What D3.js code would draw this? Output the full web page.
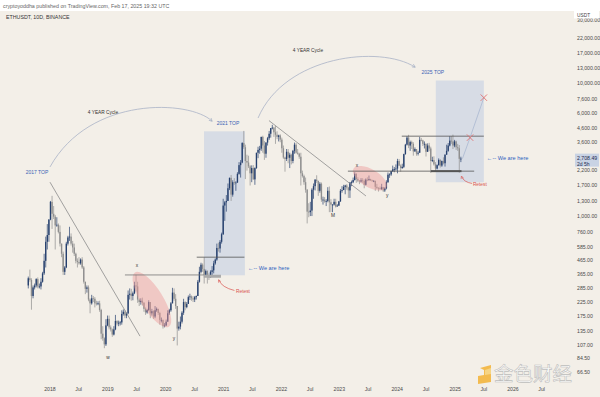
<!DOCTYPE html>
<html><head><meta charset="utf-8">
<script src="https://cdn.jsdelivr.net/npm/d3@7"></script>
<style>html,body{margin:0;padding:0;background:#fff}svg{display:block}</style>
</head><body><svg id="c" width="600" height="397"></svg>
<script>
// ---- DATA (10-day candles from 2017-08-17, ETHUSDT) ----
const firstOpen = 300;
const closes = [
340,330,250,290,300,335,295,295,320,370,
460,640,720,940,1280,1040,990,850,860,760,
620,520,380,410,620,690,700,620,580,520,
460,450,440,470,410,320,283,290,235,220,
240,238,220,218,220,196,130,120,108,150,
168,145,140,128,140,162,155,157,158,183,
190,178,185,255,260,250,262,300,295,235,
225,230,222,200,188,196,225,185,192,175,
195,200,186,165,165,148,150,160,185,195,
220,265,238,210,142,147,160,187,225,206,
218,245,248,240,235,245,250,320,380,430,
400,360,385,355,345,380,390,440,470,575,
570,640,730,1200,1270,1300,1620,1940,1450,1800,
1780,1790,2080,2420,2530,3550,3300,2600,2530,2370,
2100,2300,1890,2300,3000,3150,3220,3950,3400,2950,
3580,3860,4170,4600,4640,4280,4100,3950,4050,3770,
3240,2760,2690,3050,2750,2900,2600,3100,3450,3000,
2950,2800,2100,2000,1800,1580,1080,1070,1100,1580,
1680,1880,1840,1550,1750,1330,1330,1290,1300,1550,
1270,1220,1220,1280,1180,1200,1290,1550,1570,1660,
1700,1640,1560,1790,1800,1870,2080,1900,1850,1820,
1860,1840,1720,1880,1870,1900,1860,1830,1840,1660,
1630,1620,1600,1650,1560,1620,1800,2050,2060,2180,
2250,2260,2280,2600,2400,2300,2350,2930,3450,3900,
3400,3610,3500,3070,3200,2950,3000,3750,3720,3500,
3500,3050,3400,3230,2600,2640,2450,2280,2420,2650,
2400,2600,2500,2900,3100,3400,3700,3650,3400,3650,
3300,3240,2700,2708.49];
const highs = [
350,395,340,300,310,340,345,310,340,380,
520,700,870,950,1300,1420,1190,1020,980,880,
850,620,540,420,640,710,830,740,650,620,
530,480,490,480,490,420,320,300,300,240,
255,250,245,230,228,230,200,148,122,167,
178,178,150,142,148,180,164,163,162,195,
198,195,188,275,285,283,270,320,361,320,
240,240,243,225,205,200,232,225,200,195,
210,205,200,190,172,166,156,166,195,200,
225,288,285,258,210,160,175,192,238,228,
225,252,260,252,249,250,252,330,415,445,
440,488,395,390,370,390,420,460,480,620,
630,660,750,1350,1300,1440,1760,1950,2040,1860,
1930,1830,2140,2550,2640,3600,4380,3450,2900,2850,
2420,2410,2420,2330,3000,3330,3380,3960,4030,3680,
3600,3950,4380,4600,4870,4700,4780,4350,4100,4130,
3900,3400,2800,3200,3200,3000,2950,3150,3580,3550,
3200,3000,3000,2200,2050,1950,1600,1250,1280,1620,
1760,1900,2030,1850,1800,1790,1400,1390,1340,1650,
1670,1340,1230,1350,1350,1230,1300,1600,1680,1720,
1720,1740,1660,1800,1850,1950,2140,2100,1960,1870,
1930,1930,1890,1920,1960,2020,1910,1880,1870,1850,
1750,1650,1670,1750,1660,1650,1860,2130,2100,2200,
2400,2340,2450,2700,2690,2450,2480,2950,3500,4000,
4093,3700,3700,3600,3290,3200,3100,3950,3880,3760,
3650,3520,3530,3560,3330,2800,2820,2550,2450,2720,
2680,2620,2770,2920,3450,3550,4000,4000,4107,3750,
3700,3500,3430,2800];
const lows = [
285,320,197,240,280,290,285,285,280,315,
360,410,560,640,930,800,950,560,830,740,
590,490,360,360,405,600,650,600,530,500,
440,410,430,430,400,310,258,265,228,185,
215,225,205,212,213,190,118,115,101,105,
148,140,135,123,126,138,150,148,150,152,
178,170,170,182,235,230,232,258,270,222,
210,215,212,190,180,184,192,170,178,168,
170,190,180,152,158,142,145,148,160,180,
190,220,230,200,106,137,140,155,180,195,
202,218,233,230,225,225,235,250,315,370,
380,310,360,310,330,345,360,370,430,460,
540,530,620,720,920,1080,1300,1570,1300,1400,
1720,1550,1780,2050,1950,2500,3200,1900,2200,2300,
1700,1800,1880,1720,2270,2730,2950,3100,3000,2650,
2750,3400,3750,3900,4500,3950,3500,3800,3650,3600,
3000,2700,2160,2600,2500,2300,2450,2500,2950,2950,
2900,2700,1700,1950,1720,1500,880,980,1000,1000,
1350,1560,1780,1420,1500,1280,1220,1260,1190,1270,
1070,1070,1070,1200,1160,1180,1190,1280,1500,1570,
1460,1580,1370,1370,1680,1770,1850,1780,1800,1740,
1790,1780,1620,1700,1830,1840,1840,1820,1800,1550,
1600,1530,1580,1570,1520,1520,1590,1780,1940,2010,
2150,2140,2200,2100,2380,2160,2270,2300,2900,3400,
3250,3100,3200,2850,3050,2850,2860,3000,3660,3370,
3230,2810,3050,3080,2111,2550,2400,2150,2250,2400,
2320,2350,2450,2360,2900,3050,3350,3500,3200,3300,
3150,3100,2120,2550];

const priceTicks = [66.5,84.5,107,135,175,225,285,365,465,585,760,1000,1300,1700,2200,3600,4600,6000,7600,10000,13000,17000,22000,30000];
const yearLabels = ["2018","2019","2020","2021","2022","2023","2024","2025","2026"];
const lastPrice = 2708.49;

// ---- SETUP ----
const W = 600, H = 397;
const svg = d3.select('#c');
const FONT = 'Liberation Sans, Arial, sans-serif';
svg.append('rect').attr('width', W).attr('height', H).attr('fill', '#f3efe8');
svg.append('rect').attr('width', W).attr('height', 11).attr('fill', '#ffffff');

const x = d3.scaleTime().domain([new Date(2018,0,1), new Date(2026,0,1)]).range([50, 513]);
const y = d3.scaleLog().domain([66.5, 22000]).range([372.3, 37.9]);
const D = (yy, mm, dd) => new Date(yy, mm - 1, dd);

const defs = svg.append('defs');
defs.append('clipPath').attr('id', 'plot').append('rect').attr('x', 0).attr('y', 11).attr('width', 574).attr('height', 372);
function marker(id, color) {
  defs.append('marker').attr('id', id).attr('viewBox', '0 0 10 10').attr('refX', 8).attr('refY', 5)
    .attr('markerWidth', 5).attr('markerHeight', 5).attr('orient', 'auto-start-reverse')
    .append('path').attr('d', 'M1,1 L9,5 L1,9').attr('fill', 'none').attr('stroke', color).attr('stroke-width', 1.5);
}
marker('arrG', '#9aa7bf');
marker('arrR', '#d9534f');

const g = svg.append('g').attr('clip-path', 'url(#plot)');

// boxes
const boxes = [
  {d0: D(2020,8,30), d1: D(2021,5,15), p0: 358, p1: 4350},
  {d0: D(2024,9,1), d1: D(2025,7,1), p0: 1800, p1: 10500}
];
g.selectAll('rect.box').data(boxes).enter().append('rect')
  .attr('x', b => x(b.d0)).attr('width', b => x(b.d1) - x(b.d0))
  .attr('y', b => y(b.p1)).attr('height', b => y(b.p0) - y(b.p1))
  .attr('fill', '#cfd7e4').attr('opacity', 0.8);

// candles
const candles = closes.map((c, i) => {
  const o = i === 0 ? firstOpen : closes[i - 1];
  return {d: new Date(2017, 7, 17 + 10 * i), o, c, h: Math.max(highs[i], o, c), l: Math.min(lows[i], o, c)};
});
const step = x(new Date(2017,7,27)) - x(new Date(2017,7,17));
const bw = Math.max(1, step * 0.85);
const upC = '#26406e', dnC = '#8e8e8e';
const cg = g.append('g');
cg.selectAll('line.w').data(candles).enter().append('line')
  .attr('x1', d => x(d.d)).attr('x2', d => x(d.d))
  .attr('y1', d => y(d.h)).attr('y2', d => y(d.l))
  .attr('stroke', d => d.c >= d.o ? upC : dnC).attr('stroke-width', 0.7);
cg.selectAll('rect.b').data(candles).enter().append('rect')
  .attr('x', d => x(d.d) - bw / 2).attr('width', bw)
  .attr('y', d => y(Math.max(d.o, d.c))).attr('height', d => Math.max(0.8, Math.abs(y(d.o) - y(d.c))))
  .attr('fill', d => d.c >= d.o ? upC : dnC);

// ellipses
const ellipses = [
  {d: D(2019,10,6), p: 235, rx: 32, ry: 11, rot: 58},
  {d: D(2023,7,13), p: 1929, rx: 19, ry: 9, rot: 30}
];
g.selectAll('ellipse').data(ellipses).enter().append('ellipse')
  .attr('transform', e => `translate(${x(e.d)},${y(e.p)}) rotate(${e.rot})`)
  .attr('rx', e => e.rx).attr('ry', e => e.ry)
  .attr('fill', '#ee9a9a').attr('opacity', 0.45);

// lines
const hl = [
  {d0: D(2019,4,19), d1: D(2020,8,30), p: 360, c: '#777', w: 0.8},
  {d0: D(2020,7,15), d1: D(2021,5,12), p: 490, c: '#555', w: 0.8},
  {d0: D(2024,1,30), d1: D(2025,7,1), p: 4000, c: '#555', w: 0.8},
  {d0: D(2023,2,24), d1: D(2025,5,1), p: 2180, c: '#555', w: 0.8},
  {d0: D(2024,8,1), d1: D(2025,2,10), p: 2180, c: '#555', w: 2},
  {d0: D(2020,8,28), d1: D(2020,12,15), p: 352, c: '#aaa', w: 3}
];
g.selectAll('line.h').data(hl).enter().append('line')
  .attr('x1', l => x(l.d0)).attr('x2', l => x(l.d1)).attr('y1', l => y(l.p)).attr('y2', l => y(l.p))
  .attr('stroke', l => l.c).attr('stroke-width', l => l.w);
const tl = [
  {d0: D(2018,1,1), p0: 1800, d1: D(2019,7,23), p1: 124.5},
  {d0: D(2021,10,14), p0: 5240, d1: D(2023,6,18), p1: 1417}
];
g.selectAll('line.t').data(tl).enter().append('line')
  .attr('x1', l => x(l.d0)).attr('x2', l => x(l.d1)).attr('y1', l => y(l.p0)).attr('y2', l => y(l.p1))
  .attr('stroke', '#8c8c8c').attr('stroke-width', 0.8);

// projection
const proj = [{d: D(2025,2,16), p: lastPrice}, {d: D(2025,4,5), p: 3900}, {d: D(2025,7,1), p: 7800}];
g.append('path').attr('d', d3.line().x(p => x(p.d)).y(p => y(p.p))(proj))
  .attr('fill', 'none').attr('stroke', '#a9b8d0').attr('stroke-width', 0.8);
proj.slice(1).forEach(p => {
  const cx = x(p.d), cy = y(p.p), s = 3.2;
  g.append('path').attr('d', `M${cx-s},${cy-s}L${cx+s},${cy+s}M${cx-s},${cy+s}L${cx+s},${cy-s}`)
    .attr('stroke', '#e07070').attr('stroke-width', 0.9);
});

// arcs
const arcs = [
  [[D(2018,1,1), 2345], [D(2018,9,10), 8150], [D(2020,6,2), 7480], [D(2020,10,19), 5200]],
  [[D(2021,8,6), 5480], [D(2022,1,23), 16360], [D(2023,9,14), 19460], [D(2024,4,22), 13270]]
];
arcs.forEach(a => {
  const P = a.map(q => [x(q[0]), y(q[1])]);
  g.append('path').attr('d', `M${P[0]}C${P[1]} ${P[2]} ${P[3]}`)
    .attr('fill', 'none').attr('stroke', '#aab3c6').attr('stroke-width', 0.8).attr('marker-end', 'url(#arrG)');
});

// retest arrows
const rArrows = [
  [[D(2020,12,1), 330], [D(2020,12,20), 290], [D(2021,3,10), 275]],
  [[D(2025,2,10), 1990], [D(2025,2,25), 1800], [D(2025,4,18), 1760]]
];
rArrows.forEach(a => {
  const P = a.map(q => [x(q[0]), y(q[1])]);
  g.append('path').attr('d', `M${P[2]}Q${P[1]} ${P[0]}`)
    .attr('fill', 'none').attr('stroke', '#d9534f').attr('stroke-width', 0.7).attr('marker-end', 'url(#arrR)');
});

// texts
const notes = [
  {t: '2017 TOP', d: D(2017,10,11), p: 2150, c: '#3b63b5', s: 5, a: 'middle'},
  {t: '4 YEAR Cycle', d: D(2018,12,1), p: 6085, c: '#333', s: 4.8, a: 'middle'},
  {t: '2021 TOP', d: D(2021,1,28), p: 5020, c: '#3b63b5', s: 5, a: 'middle'},
  {t: '4 YEAR Cycle', d: D(2022,6,17), p: 17800, c: '#333', s: 4.8, a: 'middle'},
  {t: '2025 TOP', d: D(2024,8,13), p: 12180, c: '#3b63b5', s: 5, a: 'middle'},
  {t: '\u2190-- We are here', d: D(2021,6,3), p: 406, c: '#2f5fbf', s: 5.6, a: 'start'},
  {t: '\u2190-- We are here', d: D(2025,7,20), p: 2740, c: '#2f5fbf', s: 5.6, a: 'start'},
  {t: 'Retest', d: D(2021,3,20), p: 272, c: '#d9534f', s: 4.8, a: 'start'},
  {t: 'Retest', d: D(2025,4,23), p: 1748, c: '#d9534f', s: 4.8, a: 'start'},
  {t: 'x', d: D(2019,7,4), p: 427, c: '#333', s: 4.8, a: 'middle'},
  {t: 'y', d: D(2020,2,22), p: 120.8, c: '#333', s: 4.8, a: 'middle'},
  {t: 'w', d: D(2019,1,2), p: 86.7, c: '#333', s: 4.8, a: 'middle'},
  {t: 'x', d: D(2023,4,22), p: 2425, c: '#333', s: 4.8, a: 'middle'},
  {t: 'y', d: D(2023,10,30), p: 1441, c: '#333', s: 4.8, a: 'middle'},
  {t: 'M', d: D(2022,11,22), p: 1019, c: '#333', s: 4.8, a: 'middle'}
];
g.selectAll('text.n').data(notes).enter().append('text')
  .attr('x', n => x(n.d)).attr('y', n => y(n.p)).attr('dy', '0.35em')
  .attr('text-anchor', n => n.a).attr('font-size', n => n.s).attr('fill', n => n.c)
  .attr('font-family', FONT).text(n => n.t);

// ---- AXES ----
const fmt = d3.format(',.2f');
svg.append('g').selectAll('text').data(priceTicks).enter().append('text')
  .attr('x', 577).attr('y', v => y(v)).attr('dy', '0.35em')
  .attr('font-size', 5.2).attr('fill', '#4a4a4a').attr('font-family', FONT).text(v => fmt(v));

const xt = [];
for (let yr = 2018; yr <= 2026; yr++) { xt.push({d: new Date(yr,0,1), t: yearLabels[yr - 2018]}); xt.push({d: new Date(yr,6,1), t: 'Jul'}); }
svg.append('g').selectAll('text').data(xt).enter().append('text')
  .attr('x', t => x(t.d)).attr('y', 391).attr('text-anchor', 'middle')
  .attr('font-size', 5.2).attr('fill', '#4a4a4a').attr('font-family', FONT).text(t => t.t);

// USDT box
svg.append('rect').attr('x', 574).attr('y', 11).attr('width', 25).attr('height', 7.5).attr('fill', '#fff');
svg.append('text').attr('x', 577).attr('y', 16.6).attr('font-size', 4.8).attr('fill', '#444').attr('font-family', FONT).text('USDT');

// last price label
const ly = y(lastPrice);
svg.append('rect').attr('x', 575).attr('y', ly - 5).attr('width', 24).attr('height', 13).attr('fill', '#c9d3e4');
svg.append('text').attr('x', 577).attr('y', ly).attr('dy', '0.35em').attr('font-size', 5.2).attr('fill', '#1d2c4f').attr('font-family', FONT).text(fmt(lastPrice));
svg.append('text').attr('x', 577).attr('y', ly + 6).attr('dy', '0.35em').attr('font-size', 5).attr('fill', '#1d2c4f').attr('font-family', FONT).text('2d 5h');

// header
svg.append('text').attr('x', 3).attr('y', 7.5).attr('font-size', 5.3).attr('fill', '#666').attr('font-family', FONT)
  .text('cryptoyoddha published on TradingView.com, Feb 17, 2025 19:32 UTC');
svg.append('text').attr('x', 6).attr('y', 19).attr('font-size', 5.3).attr('fill', '#333').attr('font-family', FONT)
  .text('ETHUSDT, 10D, BINANCE');

// watermark
const wm = svg.append('g').attr('opacity', 0.9);
wm.append('path').attr('d', 'M480,368 L491,365 L491,382 L478,384 L478,376 L484,375 L484,370 Z').attr('fill', '#f4b63f');
wm.append('path').attr('d', 'M485,370 L491,368 L491,374 L485,375 Z').attr('fill', '#f7d27a');
wm.append('text').attr('x', 494).attr('y', 381).attr('font-size', 19.5).attr('font-family', 'Noto Sans CJK SC')
  .attr('fill', '#ffffff').attr('stroke', '#b8b8b8').attr('stroke-width', 0.6).text('金色财经');
</script></body></html>
